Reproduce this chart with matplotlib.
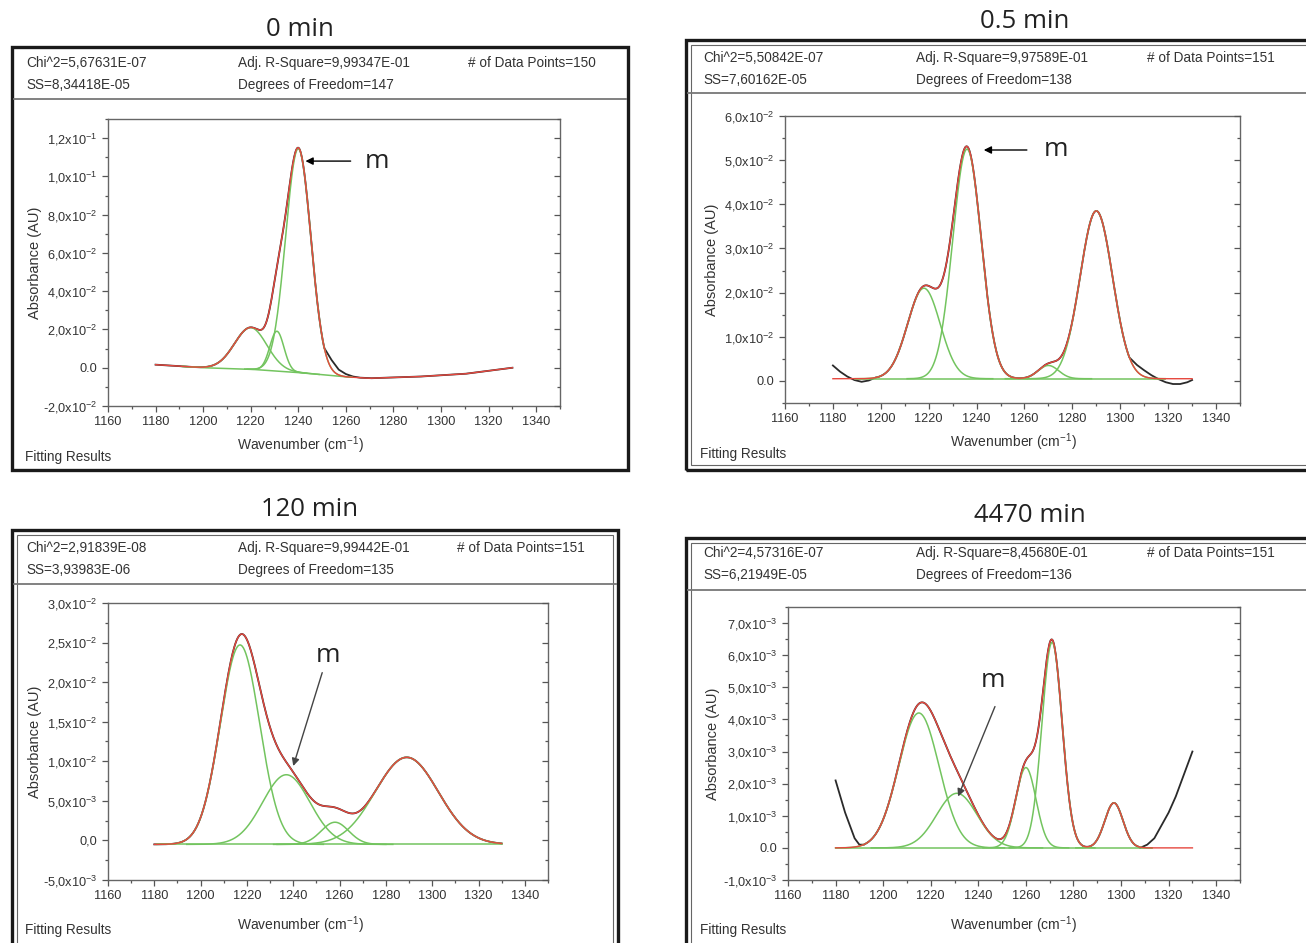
import numpy as np
import matplotlib
matplotlib.use("Agg")
import matplotlib.pyplot as plt
from matplotlib.patches import Rectangle
from matplotlib.lines import Line2D
from matplotlib.ticker import MultipleLocator

plt.rcParams['font.family'] = ['Liberation Sans', 'DejaVu Sans']
plt.rcParams['mathtext.fontset'] = 'custom'
plt.rcParams['mathtext.rm'] = 'Liberation Sans'
plt.rcParams['mathtext.default'] = 'regular'

# ---- data ----
titles = ['0 min', '0.5 min', '120 min', '4470 min']
chi2 = ['5,67631E-07', '5,50842E-07', '2,91839E-08', '4,57316E-07']
ss = ['8,34418E-05', '7,60162E-05', '3,93983E-06', '6,21949E-05']
adj_r2 = ['9,99347E-01', '9,97589E-01', '9,99442E-01', '8,45680E-01']
dof = [147, 138, 135, 136]
n_points = [150, 151, 151, 151]

x_first, x_last = 1180, 1330

# fitted gaussian components: centre, height above baseline, FWHM
c0 = [1220, 1231, 1240]
h0 = [0.0218, 0.0208, 0.117]
w0 = [16, 7, 12.5]
base0_x = [1180, 1190, 1200, 1220, 1240, 1260, 1270, 1290, 1310, 1330]
base0_y = [0.0016, 0.0008, 0.0, -0.0008, -0.0025, -0.0048, -0.0055, -0.0047, -0.0032, 0.0]

c1 = [1218, 1236, 1270, 1290]
h1 = [0.0205, 0.052, 0.003, 0.038]
w1 = [16, 14, 10, 16]
base1_x = [1180, 1330]
base1_y = [0.0005, 0.0005]

c2 = [1217, 1237, 1258, 1289]
h2 = [0.0252, 0.0088, 0.0028, 0.011]
w2 = [20, 24, 14, 32]
base2_x = [1180, 1330]
base2_y = [-0.0005, -0.0005]

c3 = [1215, 1231, 1260, 1271, 1297]
h3 = [0.0042, 0.0017, 0.0025, 0.0064, 0.0014]
w3 = [20, 20, 10, 10, 9]
base3_x = [1180, 1330]
base3_y = [0.0, 0.0]

# measured spectrum where it departs from the fit
raw0 = [([1251, 1254, 1257, 1260, 1263, 1266, 1269],
         [0.0101, 0.0040, -0.0010, -0.0033, -0.0046, -0.0052, -0.0054])]
raw1 = [([1180, 1183, 1186, 1189, 1192, 1195, 1198],
         [0.0035, 0.0021, 0.0010, 0.0002, -0.0002, 0.0001, 0.0008]),
        ([1304, 1307, 1310, 1313, 1316, 1319, 1322, 1325, 1328, 1330],
         [0.0052, 0.0036, 0.0024, 0.0013, 0.0004, -0.0003, -0.0007, -0.0007, -0.0003, 0.0002])]
raw2 = []
raw3 = [([1180, 1182, 1184, 1186, 1188, 1190, 1192],
         [0.0021, 0.0016, 0.0011, 0.0007, 0.0003, 0.0001, 0.0001]),
        ([1308, 1311, 1314, 1317, 1320, 1323, 1326, 1328, 1330],
         [0.0, 0.0001, 0.0003, 0.0007, 0.0011, 0.0016, 0.0022, 0.0026, 0.0030])]

# y axes
ylim0, yt0 = (-0.02, 0.13), [-0.02, 0.0, 0.02, 0.04, 0.06, 0.08, 0.10, 0.12]
yl0 = ['-2,0x10$^{-2}$', '0.0', '2,0x10$^{-2}$', '4,0x10$^{-2}$', '6,0x10$^{-2}$',
       '8,0x10$^{-2}$', '1,0x10$^{-1}$', '1,2x10$^{-1}$']
ylim1, yt1 = (-0.005, 0.06), [0.0, 0.01, 0.02, 0.03, 0.04, 0.05, 0.06]
yl1 = ['0.0', '1,0x10$^{-2}$', '2,0x10$^{-2}$', '3,0x10$^{-2}$', '4,0x10$^{-2}$',
       '5,0x10$^{-2}$', '6,0x10$^{-2}$']
ylim2, yt2 = (-0.005, 0.03), [-0.005, 0.0, 0.005, 0.01, 0.015, 0.02, 0.025, 0.03]
yl2 = ['-5,0x10$^{-3}$', '0,0', '5,0x10$^{-3}$', '1,0x10$^{-2}$', '1,5x10$^{-2}$',
       '2,0x10$^{-2}$', '2,5x10$^{-2}$', '3,0x10$^{-2}$']
ylim3, yt3 = (-0.001, 0.0075), [-0.001, 0.0, 0.001, 0.002, 0.003, 0.004, 0.005, 0.006, 0.007]
yl3 = ['-1,0x10$^{-3}$', '0.0', '1,0x10$^{-3}$', '2,0x10$^{-3}$', '3,0x10$^{-3}$',
       '4,0x10$^{-3}$', '5,0x10$^{-3}$', '6,0x10$^{-3}$', '7,0x10$^{-3}$']
xticks = [1160, 1180, 1200, 1220, 1240, 1260, 1280, 1300, 1320, 1340]

# "m" arrows: text pos, arrow tail, arrow tip
m0 = ((1268, 0.108), (1262, 0.108), (1243, 0.108))
m1 = ((1268, 0.0523), (1261, 0.0523), (1243, 0.0523))
m2 = ((1255, 0.0234), (1252.5, 0.0212), (1240, 0.0094))
m3 = ((1246, 0.0052), (1247, 0.0044), (1231.5, 0.0016))

panels = [
    (c0, h0, w0, base0_x, base0_y, raw0, ylim0, yt0, yl0, 0.01, m0),
    (c1, h1, w1, base1_x, base1_y, raw1, ylim1, yt1, yl1, 0.005, m1),
    (c2, h2, w2, base2_x, base2_y, raw2, ylim2, yt2, yl2, 0.0025, m2),
    (c3, h3, w3, base3_x, base3_y, raw3, ylim3, yt3, yl3, 0.0005, m3),
]

# ---- layout in pixels of the 1306 x 943 picture ----
W, H = 1306, 943
layout = [
    dict(box=(12, 47, 628, 470), hdr=99, rows=(63, 85), cols=(26, 238, 468),
         ax=(108, 119, 560, 406), title=(300, 30), ylab=35, xlab=(300, 445),
         fitres=(25, 457), inner=False, arrow_col='k'),
    dict(box=(686, 40, 1312, 470), hdr=93, rows=(58, 80), cols=(703, 916, 1147),
         ax=(785, 116, 1240, 403), title=(1025, 22), ylab=712, xlab=(1013, 442),
         fitres=(700, 454), inner=True, arrow_col='k'),
    dict(box=(12, 530, 618, 960), hdr=584, rows=(548, 570), cols=(26, 238, 457),
         ax=(108, 603, 548, 880), title=(310, 510), ylab=35, xlab=(300, 925),
         fitres=(25, 930), inner=True, arrow_col='#444444'),
    dict(box=(686, 538, 1312, 960), hdr=590, rows=(553, 575), cols=(703, 916, 1147),
         ax=(788, 607, 1240, 880), title=(1030, 515), ylab=713, xlab=(1013, 925),
         fitres=(700, 930), inner=True, arrow_col='#444444'),
]


def fx(x):
    return x / W


def fy(y):
    return 1 - y / H


def gauss(x, c, h, f):
    s = f / 2.3548
    return h * np.exp(-(x - c) ** 2 / (2 * s ** 2))


green = '#73c45f'
red = '#e6483f'
black = '#2a2a2a'

fig = plt.figure(figsize=(13.06, 9.43), dpi=100)

wn = np.linspace(x_first, x_last, 601)

for i, (c, h, w, bx, by, raw, ylim, yt, yl, ymin, mm) in enumerate(panels):
    L = layout[i]
    x0, y0, x1, y1 = L['box']
    fig.add_artist(Rectangle((fx(x0), fy(y1)), (x1 - x0) / W, (y1 - y0) / H,
                             transform=fig.transFigure, fill=False, ec='#1a1a1a', lw=2.4))
    if L['inner']:
        fig.add_artist(Rectangle((fx(x0 + 5), fy(y1 - 5)), (x1 - x0 - 10) / W, (y1 - y0 - 10) / H,
                                 transform=fig.transFigure, fill=False, ec='#666666', lw=0.8))
    fig.add_artist(Line2D([fx(x0 + 2), fx(x1 - 2)], [fy(L['hdr'])] * 2,
                          transform=fig.transFigure, color='#777777', lw=1.3))

    fig.text(fx(L['title'][0]), fy(L['title'][1]), titles[i], family='Open Sans',
             fontsize=18.5, ha='center', va='center', color='#222222')
    r1, r2 = L['rows']
    ca, cb, cc = L['cols']
    hk = dict(fontsize=9.8, va='center', color='#333333')
    fig.text(fx(ca), fy(r1), 'Chi^2=' + chi2[i], **hk)
    fig.text(fx(ca), fy(r2), 'SS=' + ss[i], **hk)
    fig.text(fx(cb), fy(r1), 'Adj. R-Square=' + adj_r2[i], **hk)
    fig.text(fx(cb), fy(r2), 'Degrees of Freedom=%d' % dof[i], **hk)
    fig.text(fx(cc), fy(r1), '# of Data Points=%d' % n_points[i], **hk)
    fig.text(fx(L['fitres'][0]), fy(L['fitres'][1]), 'Fitting Results', **hk)

    al, at, ar, ab = L['ax']
    ax = fig.add_axes([fx(al), fy(ab), (ar - al) / W, (ab - at) / H])
    fig.text(fx(L['ylab']), fy((at + ab) / 2), 'Absorbance (AU)', rotation=90,
             fontsize=10.5, ha='center', va='center', color='#333333')
    fig.text(fx(L['xlab'][0]), fy(L['xlab'][1]), 'Wavenumber (cm$^{-1}$)',
             fontsize=10, ha='center', va='center', color='#333333')

    base = np.interp(wn, bx, by)
    comps = [gauss(wn, cc_, hh, ff) for cc_, hh, ff in zip(c, h, w)]
    fit = base + np.sum(comps, axis=0)

    # measured data: follows fit except where readings differ
    xs, ys = wn.copy(), fit.copy()
    for sx, sy in raw:
        keep = (xs < min(sx)) | (xs > max(sx))
        xs = np.concatenate([xs[keep], sx])
        ys = np.concatenate([ys[keep], sy])
    order = np.argsort(xs)
    ax.plot(xs[order], ys[order], color=black, lw=1.3, zorder=2)

    lo_all, hi_all = [], []
    for cc_, hh, ff, comp in zip(c, h, w, comps):
        lo, hi = max(cc_ - 1.8 * ff, x_first), min(cc_ + 1.8 * ff, x_last)
        sel = (wn >= lo) & (wn <= hi)
        ax.plot(wn[sel], (base + comp)[sel], color=green, lw=1.1, zorder=3)
        lo_all.append(lo)
        hi_all.append(hi)
    sel = (wn >= min(lo_all)) & (wn <= max(hi_all))
    ax.plot(wn[sel], base[sel], color=green, lw=1.1, zorder=3)
    ax.plot(wn, fit, color=red, lw=1.0, zorder=4)

    (tx, ty), (qx, qy), (px, py) = mm
    ax.annotate('', xy=(px, py), xytext=(qx, qy),
                arrowprops=dict(arrowstyle='-|>', color=L['arrow_col'], lw=1.0,
                                mutation_scale=11, shrinkA=0, shrinkB=0), zorder=5)
    ax.text(tx, ty, 'm', family='Open Sans', fontsize=19, ha='left' if i < 2 else 'center',
            va='center', color='#222222')

    ax.set_xlim(1160, 1350)
    ax.set_ylim(*ylim)
    ax.set_xticks(xticks)
    ax.set_xticklabels([str(v) for v in xticks])
    ax.xaxis.set_minor_locator(MultipleLocator(10))
    ax.set_yticks(yt)
    ax.set_yticklabels(yl)
    ax.yaxis.set_minor_locator(MultipleLocator(ymin))
    ax.tick_params(which='both', direction='out', colors='#555555', labelcolor='#333333',
                   labelsize=9.2, width=0.9)
    ax.tick_params(which='major', length=4)
    ax.tick_params(which='minor', length=2.5)
    ax.tick_params(axis='x', pad=3)
    for sp in ax.spines.values():
        sp.set_color('#666666')
        sp.set_linewidth(1.0)

    ax2 = ax.twinx()
    ax2.set_ylim(*ylim)
    ax2.set_yticks(yt)
    ax2.yaxis.set_minor_locator(MultipleLocator(ymin))
    ax2.tick_params(which='both', direction='in', colors='#555555', labelright=False, width=0.9)
    ax2.tick_params(which='major', length=4)
    ax2.tick_params(which='minor', length=2.5)
    for sp in ax2.spines.values():
        sp.set_visible(False)

fig.savefig('out.png', dpi=100)
